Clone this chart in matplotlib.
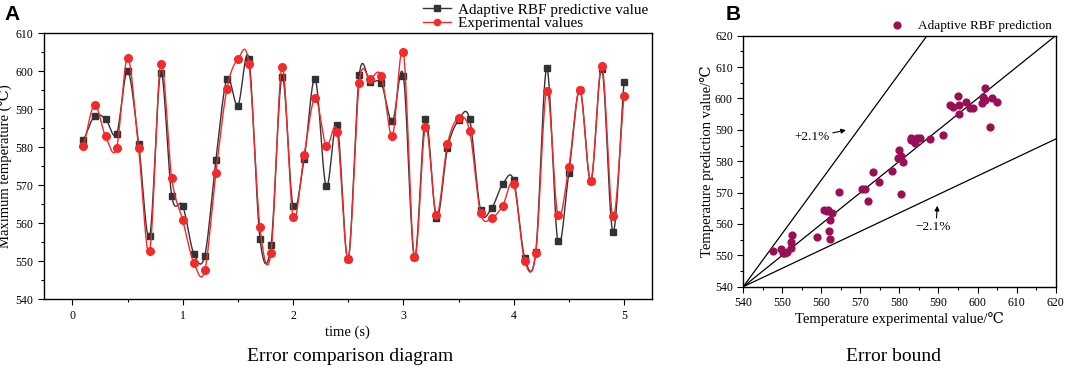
import numpy as np
import matplotlib
matplotlib.use("Agg")
import matplotlib.pyplot as plt
from matplotlib.ticker import MultipleLocator

plt.rcParams['font.family'] = ['Liberation Serif', 'DejaVu Serif', 'Noto Sans CJK SC']
plt.rcParams['axes.unicode_minus'] = False

# time axis (s)
time_s = [0.1, 0.2, 0.3, 0.4, 0.5, 0.6, 0.7, 0.8, 0.9, 1.0,
          1.1, 1.2, 1.3, 1.4, 1.5, 1.6, 1.7, 1.8, 1.9, 2.0,
          2.1, 2.2, 2.3, 2.4, 2.5, 2.6, 2.7, 2.8, 2.9, 3.0,
          3.1, 3.2, 3.3, 3.4, 3.5, 3.6, 3.7, 3.8, 3.9, 4.0,
          4.1, 4.2, 4.3, 4.4, 4.5, 4.6, 4.7, 4.8, 4.9, 5.0]

# adaptive RBF predicted maximum temperature
predicted = [581.8, 588.2, 587.5, 583.5, 600.0, 581.0, 556.6, 599.6, 567.2, 564.6,
             552.0, 551.5, 576.6, 597.9, 591.0, 603.2, 556.0, 554.2, 598.6, 564.5,
             576.8, 598.0, 569.7, 585.8, 550.7, 599.0, 597.1, 596.8, 586.8, 598.8,
             551.1, 587.5, 561.4, 579.7, 587.1, 587.5, 563.4, 564.0, 570.3, 571.3,
             550.9, 552.4, 600.8, 555.3, 573.3, 595.2, 571.1, 600.6, 557.7, 597.2]

# experimental maximum temperature
experimental = [580.3, 591.1, 582.9, 579.8, 603.6, 579.7, 552.6, 601.9, 571.9, 560.8,
                549.6, 547.6, 573.3, 595.3, 603.2, 601.8, 558.9, 552.3, 601.2, 561.6,
                578.0, 593.0, 580.4, 584.0, 550.7, 597.0, 598.0, 598.8, 583.0, 605.1,
                551.1, 585.3, 562.3, 580.9, 587.8, 584.4, 562.7, 561.4, 564.6, 570.3,
                550.1, 552.1, 594.9, 562.3, 574.8, 595.2, 571.1, 601.4, 561.9, 593.6]

bound_pct = 2.1
bound_slope = 1.70   # slope of the +/- bound lines through (540, 540)


def smooth_line(x, y, n=25):
    """Catmull-Rom curve through the points (only for drawing the smooth connection)."""
    x = np.asarray(x, float)
    y = np.asarray(y, float)
    m = np.gradient(y, x)
    m[1:-1] = (y[2:] - y[:-2]) / (x[2:] - x[:-2])
    xs, ys = [], []
    for i in range(len(x) - 1):
        h = x[i + 1] - x[i]
        t = np.linspace(0, 1, n, endpoint=(i == len(x) - 2))
        h00 = 2 * t**3 - 3 * t**2 + 1
        h10 = t**3 - 2 * t**2 + t
        h01 = -2 * t**3 + 3 * t**2
        h11 = t**3 - t**2
        xs.append(x[i] + t * h)
        ys.append(h00 * y[i] + h10 * h * m[i] + h01 * y[i + 1] + h11 * h * m[i + 1])
    return np.concatenate(xs), np.concatenate(ys)


black = '#333333'
red = '#f42a2a'
purple = '#990f55'

fig = plt.figure(figsize=(10.65, 3.79), dpi=100)

# ---- panel A ----
ax1 = fig.add_axes([0.0413, 0.2103, 0.5706, 0.7018])
sx, sy = smooth_line(time_s, predicted)
ax1.plot(sx, sy, color=black, lw=1.0)
ax1.plot(time_s, predicted, 's', color=black, ms=5, lw=0)
ex, ey = smooth_line(time_s, experimental)
ax1.plot(ex, ey, color=red, lw=1.0)
ax1.plot(time_s, experimental, 'o', color=red, ms=5.5, lw=0)
# legend proxies
ax1.plot([], [], '-s', color=black, ms=4, lw=1.0, label='Adaptive RBF predictive value')
ax1.plot([], [], '-o', color=red, ms=4.5, lw=1.0, label='Experimental values')
handles, labels = ax1.get_legend_handles_labels()
ax1.legend(handles, labels, loc='lower right', bbox_to_anchor=(1.0, 1.0), frameon=False,
           borderaxespad=0.2, borderpad=0, handlelength=1.8, handletextpad=0.5,
           labelspacing=0.0, fontsize=11)

ax1.set_xlim(-0.258, 5.251)
ax1.set_ylim(540, 610)
ax1.xaxis.set_major_locator(MultipleLocator(1))
ax1.xaxis.set_minor_locator(MultipleLocator(0.5))
ax1.yaxis.set_major_locator(MultipleLocator(10))
ax1.yaxis.set_minor_locator(MultipleLocator(5))
ax1.set_xlabel('time (s)', fontsize=10.5, labelpad=3)
ax1.set_ylabel('Maximum temperature (℃)', fontsize=10.5)
ax1.yaxis.set_label_coords(-0.052, 0.5)

# ---- panel B ----
ax2 = fig.add_axes([0.6979, 0.2435, 0.2933, 0.6623])
lim = np.array([540, 620])
ax2.plot(lim, lim, color='black', lw=0.9)
ax2.plot(lim, 540 + bound_slope * (lim - 540), color='black', lw=0.9)
ax2.plot(lim, 540 + (lim - 540) / bound_slope, color='black', lw=0.9)
ax2.scatter(experimental, predicted, s=24, color=purple, zorder=3,
            label='Adaptive RBF prediction')
ax2.legend(loc='lower right', bbox_to_anchor=(1.0, 1.0), frameon=False,
           borderaxespad=0.3, borderpad=0, handletextpad=0.6, fontsize=9.5)
ax2.annotate('+%.1f%%' % bound_pct, xy=(566.3, 589.9), xytext=(553.2, 587.7),
             va='center', fontsize=9.5,
             arrowprops=dict(arrowstyle='-|>', color='black', lw=0.8, mutation_scale=7,
                             shrinkA=0, shrinkB=0))
ax2.annotate('\u2212%.1f%%' % bound_pct, xy=(589.7, 565.8), xytext=(584.0, 559.1),
             va='center', fontsize=9.5,
             arrowprops=dict(arrowstyle='-|>', color='black', lw=0.8, mutation_scale=7,
                             shrinkA=0, shrinkB=0, relpos=(0.6, 1.0)))
ax2.set_xlim(540, 620)
ax2.set_ylim(540, 620)
for axis in (ax2.xaxis, ax2.yaxis):
    axis.set_major_locator(MultipleLocator(10))
    axis.set_minor_locator(MultipleLocator(5))
ax2.set_xlabel('Temperature experimental value/℃', fontsize=10.5, labelpad=2)
ax2.set_ylabel('Temperature prediction value/℃', fontsize=10.5)
ax2.yaxis.set_label_coords(-0.095, 0.5)

for ax in (ax1, ax2):
    ax.tick_params(which='major', direction='out', length=4, width=0.8, labelsize=8.5,
                   top=False, right=False)
    ax.tick_params(which='minor', direction='out', length=2.5, width=0.8,
                   top=False, right=False)
    for sp in ax.spines.values():
        sp.set_linewidth(1.0)

fig.text(0.004, 0.988, 'A', fontsize=15, fontweight='bold', family='Liberation Sans',
         ha='left', va='top')
fig.text(0.681, 0.988, 'B', fontsize=15, fontweight='bold', family='Liberation Sans',
         ha='left', va='top')
fig.text(0.329, 0.06, 'Error comparison diagram', fontsize=14, ha='center', va='center')
fig.text(0.839, 0.06, 'Error bound', fontsize=14, ha='center', va='center')

fig.savefig('out.png', dpi=100)
